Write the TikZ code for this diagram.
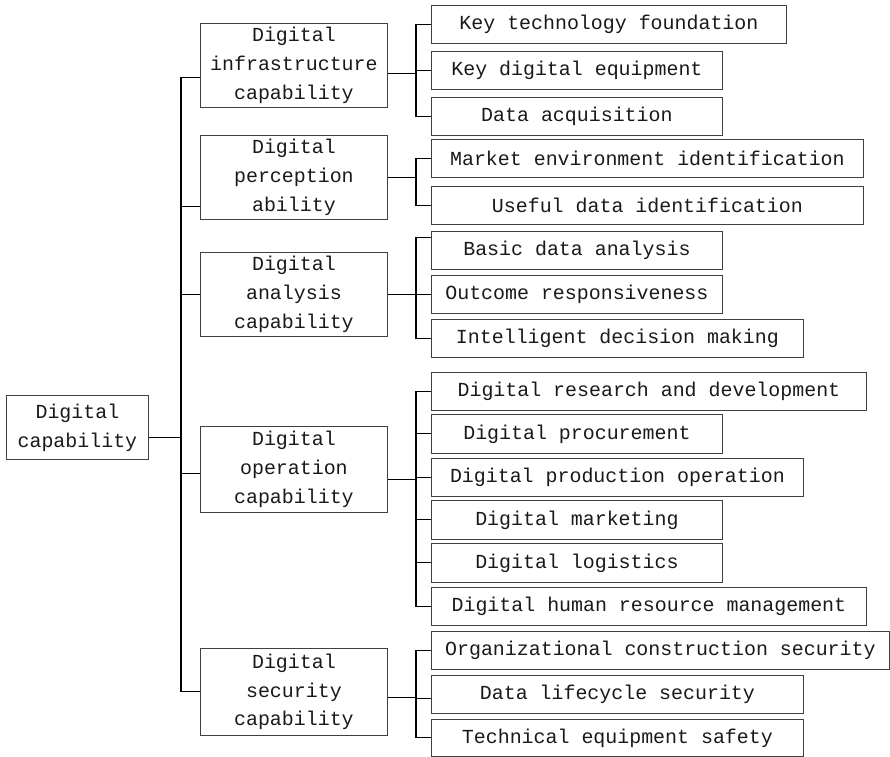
\documentclass[tikz,border=0pt]{standalone}
\usepackage{fontspec}
\newfontfamily\boxfont{Liberation Mono}
\begin{document}
\begin{tikzpicture}[x=1bp,y=-1bp,
  box/.style={draw=black!75, line width=0.8bp, inner sep=0pt, align=center, anchor=north west,
    font=\boxfont\fontsize{20}{29}\selectfont, text=black!90},
  link/.style={draw=black, line width=1.1bp}]
\useasboundingbox (0,0) rectangle (890,757);
\coordinate (tr) at (181,0);
\coordinate (st) at (416,0);
% root
\node[box, minimum width=142bp, minimum height=64bp] (root) at (6,395) {Digital\\capability};
% level 1
\node[box, minimum width=187bp, minimum height=84bp] (inf) at (200,23) {Digital\\infrastructure\\capability};
\node[box, minimum width=187bp, minimum height=84bp] (per) at (200,135) {Digital\\perception\\ability};
\node[box, minimum width=187bp, minimum height=84bp] (ana) at (200,252) {Digital\\analysis\\capability};
\node[box, minimum width=187bp, minimum height=86bp] (ope) at (200,426) {Digital\\operation\\capability};
\node[box, minimum width=187bp, minimum height=87bp] (sec) at (200,648) {Digital\\security\\capability};
% level 2
\node[box, minimum width=355bp, minimum height=38bp] (a1) at (431,5) {Key technology foundation};
\node[box, minimum width=291bp, minimum height=38bp] (a2) at (431,51) {Key digital equipment};
\node[box, minimum width=291bp, minimum height=38bp] (a3) at (431,97) {Data acquisition};
\node[box, minimum width=432bp, minimum height=38bp] (b1) at (431,139) {Market environment identification};
\node[box, minimum width=432bp, minimum height=38bp] (b2) at (431,186) {Useful data identification};
\node[box, minimum width=291bp, minimum height=38bp] (c1) at (431,231) {Basic data analysis};
\node[box, minimum width=291bp, minimum height=38bp] (c2) at (431,275) {Outcome responsiveness};
\node[box, minimum width=372bp, minimum height=38bp] (c3) at (431,319) {Intelligent decision making};
\node[box, minimum width=435bp, minimum height=38bp] (d1) at (431,372) {Digital research and development};
\node[box, minimum width=291bp, minimum height=39bp] (d2) at (431,414) {Digital procurement};
\node[box, minimum width=372bp, minimum height=38bp] (d3) at (431,458) {Digital production operation};
\node[box, minimum width=291bp, minimum height=39bp] (d4) at (431,500) {Digital marketing};
\node[box, minimum width=291bp, minimum height=39bp] (d5) at (431,543) {Digital logistics};
\node[box, minimum width=435bp, minimum height=38bp] (d6) at (431,587) {Digital human resource management};
\node[box, minimum width=458bp, minimum height=38bp] (e1) at (431,631) {Organizational construction security};
\node[box, minimum width=372bp, minimum height=38bp] (e2) at (431,675) {Data lifecycle security};
\node[box, minimum width=372bp, minimum height=37bp] (e3) at (431,719) {Technical equipment safety};
% trunk
\draw[link] ([yshift=-10bp]root.east) -- ([yshift=-10bp]root.east -| tr);
\draw[link] ([yshift=-12bp]inf.west) -- ([yshift=-12bp]inf.west -| tr) |- (sec.west);
\draw[link] ([yshift=-29bp]per.west) -- ([yshift=-29bp]per.west -| tr);
\draw[link] (ana.west) -- (ana.west -| tr);
\draw[link] ([yshift=-4bp]ope.west) -- ([yshift=-4bp]ope.west -| tr);
% group: infrastructure
\draw[link] ([yshift=-8bp]inf.east) -- ([yshift=-8bp]inf.east -| st);
\draw[link] (a1.west) -- (a1.west -| st) |- (a3.west);
\draw[link] (a2.west) -- (a2.west -| st);
% group: perception
\draw[link] (per.east) -- (per.east -| st);
\draw[link] (b1.west) -- (b1.west -| st) |- (b2.west);
% group: analysis
\draw[link] (ana.east) -- (ana.east -| st);
\draw[link] ([yshift=13bp]c1.west) -- ([yshift=13bp]c1.west -| st) |- (c3.west);
\draw[link] (c2.west) -- (c2.west -| st);
% group: operation
\draw[link] ([yshift=-10bp]ope.east) -- ([yshift=-10bp]ope.east -| st);
\draw[link] (d1.west) -- (d1.west -| st) |- (d6.west);
\draw[link] (d2.west) -- (d2.west -| st);
\draw[link] (d3.west) -- (d3.west -| st);
\draw[link] (d4.west) -- (d4.west -| st);
\draw[link] (d5.west) -- (d5.west -| st);
% group: security
\draw[link] ([yshift=-6bp]sec.east) -- ([yshift=-6bp]sec.east -| st);
\draw[link] (e1.west) -- (e1.west -| st) |- (e3.west);
\draw[link] ([yshift=-4bp]e2.west) -- ([yshift=-4bp]e2.west -| st);
\end{tikzpicture}
\end{document}
